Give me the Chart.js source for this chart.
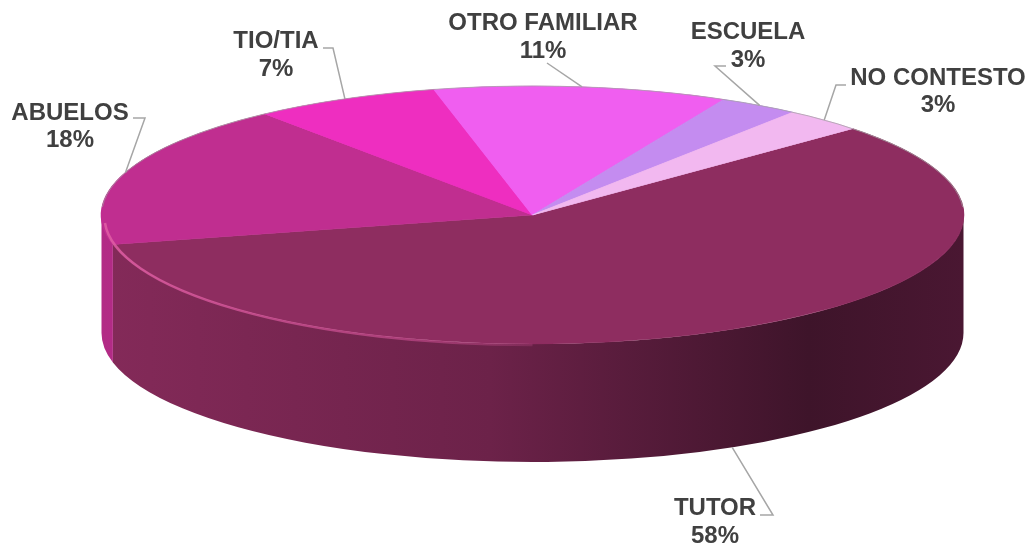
<!DOCTYPE html>
<html><head><meta charset="utf-8">
<script src="https://cdn.jsdelivr.net/npm/chart.js@4.4.1/dist/chart.umd.min.js"></script>
<style>html,body{margin:0;padding:0;background:#fff;overflow:hidden}canvas{display:block}</style>
</head><body>
<canvas id="c" width="1028" height="545"></canvas>
<script>
// ---- data ----
const categories = ['TUTOR', 'ABUELOS', 'TIO/TIA', 'OTRO FAMILIAR', 'ESCUELA', 'NO CONTESTO'];
const values = [58, 18, 7, 11, 3, 3];
const valueLabels = ['58%', '18%', '7%', '11%', '3%', '3%'];

// ---- styles ----
const sliceColors = ['#8E2D60', '#C02E90', '#EE2EC0', '#F05EF0', '#C48CF0', '#F2B8F0'];
const GEO = { cx: 532.5, cy: 215, rx: 431, ry: 129, depth: 118 };
const labelLayout = [
  { x: 715, y1: 515, y2: 543, elbow: [[760, 515], [773, 515]], side: true },
  { x: 70,  y1: 120, y2: 147, elbow: [[133, 118], [145, 118]] },
  { x: 276, y1: 48,  y2: 76,  elbow: [[323, 48], [333, 48]] },
  { x: 543, y1: 30,  y2: 58,  elbow: [[547, 63]] },
  { x: 748, y1: 39,  y2: 67,  elbow: [[726, 66], [715, 66]] },
  { x: 938, y1: 85,  y2: 112, elbow: [[846, 85], [836, 85]] }
];

function shade(hex, f) {
  const n = parseInt(hex.slice(1), 16);
  const r = (n >> 16) & 255, g = (n >> 8) & 255, b = n & 255;
  return `rgb(${Math.round(r * f)},${Math.round(g * f)},${Math.round(b * f)})`;
}
function rimPoint(a, dz) {
  return [GEO.cx + GEO.rx * Math.cos(a), GEO.cy + GEO.ry * Math.sin(a) + (dz || 0)];
}

const pie3d = {
  id: 'pie3d',
  beforeDatasetsDraw(chart) {
    const ctx = chart.ctx;
    const arcs = chart.getDatasetMeta(0).data;
    const { cx, cy, rx, ry, depth } = GEO;
    // extruded sides (front half only)
    ctx.save();
    arcs.forEach((arc, i) => {
      const s = arc.startAngle, e = arc.endAngle;
      for (let k = -1; k <= 2; k++) {
        const lo = Math.max(s, 2 * Math.PI * k);
        const hi = Math.min(e, 2 * Math.PI * k + Math.PI);
        if (hi <= lo) continue;
        const g = ctx.createLinearGradient(cx - rx, 0, cx + rx, 0);
        const base = sliceColors[i];
        g.addColorStop(0, shade(base, 0.93));
        g.addColorStop(0.45, shade(base, 0.76));
        g.addColorStop(0.82, shade(base, 0.44));
        g.addColorStop(1, shade(base, 0.52));
        ctx.beginPath();
        const p0 = rimPoint(lo, 0);
        ctx.moveTo(p0[0], p0[1]);
        ctx.ellipse(cx, cy, rx, ry, 0, lo, hi, false);
        const p1 = rimPoint(hi, depth);
        ctx.lineTo(p1[0], p1[1]);
        ctx.ellipse(cx, cy + depth, rx, ry, 0, hi, lo, true);
        ctx.closePath();
        ctx.fillStyle = g;
        ctx.fill();
      }
    });
    ctx.restore();
    // squash the library's pie into the top face ellipse
    const a0 = arcs[0];
    const r = a0.outerRadius;
    ctx.save();
    ctx.translate(cx, cy);
    ctx.scale(rx / r, ry / r);
    ctx.translate(-a0.x, -a0.y);
  },
  afterDatasetsDraw(chart) {
    const ctx = chart.ctx;
    ctx.restore();
    const { cx, cy, rx, ry } = GEO;
    // back rim outline
    ctx.save();
    ctx.beginPath();
    ctx.ellipse(cx, cy, rx, ry, 0, Math.PI * 1.02, Math.PI * 1.98);
    ctx.strokeStyle = 'rgba(160,160,160,0.7)';
    ctx.lineWidth = 1;
    ctx.stroke();
    // front rim highlight
    const hg = ctx.createLinearGradient(cx - rx, 0, cx + 80, 0);
    hg.addColorStop(0, 'rgba(225,95,165,0.85)');
    hg.addColorStop(0.6, 'rgba(215,85,155,0.55)');
    hg.addColorStop(1, 'rgba(215,85,155,0)');
    ctx.beginPath();
    ctx.ellipse(cx, cy + 2, rx - 3, ry - 1, 0, Math.PI * 0.5, Math.PI * 0.985);
    ctx.strokeStyle = hg;
    ctx.lineWidth = 2.5;
    ctx.stroke();
    ctx.restore();

    // labels with leader lines
    const arcs = chart.getDatasetMeta(0).data;
    ctx.save();
    arcs.forEach((arc, i) => {
      const L = labelLayout[i];
      const mid = (arc.startAngle + arc.endAngle) / 2;
      const end = rimPoint(mid, L.side ? GEO.depth : 0);
      ctx.beginPath();
      ctx.moveTo(L.elbow[0][0], L.elbow[0][1]);
      for (let j = 1; j < L.elbow.length; j++) ctx.lineTo(L.elbow[j][0], L.elbow[j][1]);
      ctx.lineTo(end[0], end[1]);
      ctx.strokeStyle = '#a6a6a6';
      ctx.lineWidth = 1.5;
      ctx.stroke();
      ctx.font = 'bold 24px "Liberation Sans", Arial, sans-serif';
      ctx.fillStyle = '#404040';
      ctx.textAlign = 'center';
      ctx.textBaseline = 'alphabetic';
      ctx.fillText(chart.data.labels[i], L.x, L.y1);
      ctx.fillText(valueLabels[i], L.x, L.y2);
    });
    ctx.restore();
  }
};

new Chart(document.getElementById('c'), {
  type: 'pie',
  data: {
    labels: categories,
    datasets: [{
      data: values,
      backgroundColor: sliceColors,
      borderColor: sliceColors,
      borderWidth: 1
    }]
  },
  options: {
    responsive: false,
    animation: false,
    rotation: 48,
    layout: { padding: 0 },
    plugins: { legend: { display: false }, tooltip: { enabled: false } },
    events: []
  },
  plugins: [pie3d]
});
</script>
</body></html>
